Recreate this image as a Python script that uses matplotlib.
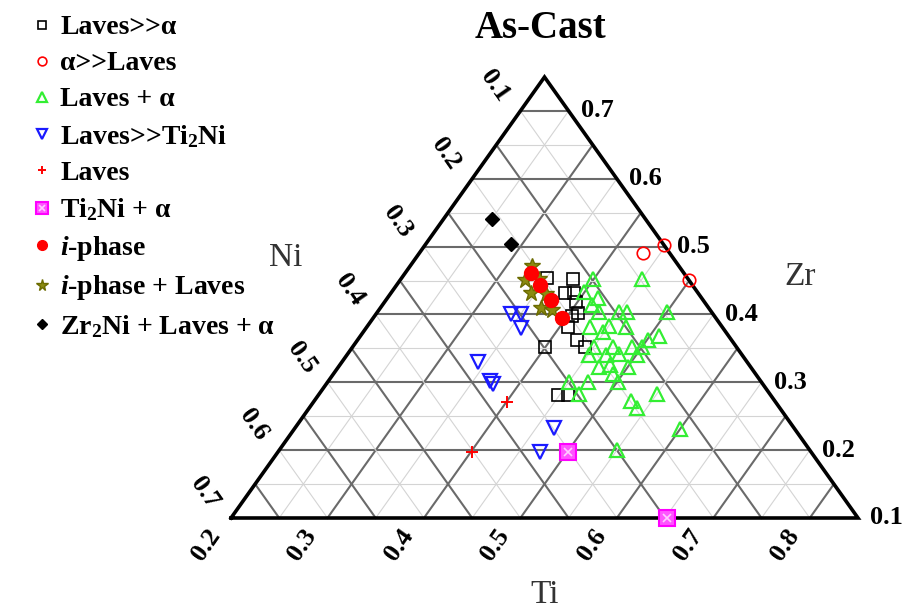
import numpy as np
import matplotlib
matplotlib.use('Agg')
import matplotlib.pyplot as plt

plt.rcParams['font.family'] = ['Liberation Serif', 'DejaVu Serif']
plt.rcParams['mathtext.fontset'] = 'custom'
plt.rcParams['mathtext.rm'] = 'Liberation Serif:bold'
plt.rcParams['mathtext.it'] = 'Liberation Serif:italic:bold'
plt.rcParams['mathtext.default'] = 'regular'

# compositions (fractions), Ni = 1 - Ti - Zr
laves_ti = [0.351, 0.379, 0.380, 0.390, 0.399, 0.409, 0.404, 0.408, 0.428, 0.441, 0.400, 0.448, 0.459]
laves_zr = [0.454, 0.452, 0.432, 0.432, 0.418, 0.402, 0.398, 0.382, 0.362, 0.352, 0.352, 0.281, 0.281]

alpha_ti = [0.432, 0.448, 0.499]
alpha_zr = [0.491, 0.502, 0.451]

mix_ti = [0.399, 0.450, 0.399, 0.418, 0.417, 0.429, 0.450, 0.459, 0.500, 0.431, 0.450, 0.449,
          0.469, 0.510, 0.501, 0.450, 0.470, 0.490, 0.500, 0.451, 0.469, 0.481, 0.501, 0.470,
          0.480, 0.500, 0.490, 0.450, 0.470, 0.501, 0.469, 0.550, 0.529, 0.540, 0.600, 0.550]
mix_zr = [0.452, 0.452, 0.433, 0.424, 0.414, 0.404, 0.404, 0.404, 0.404, 0.382, 0.383, 0.374,
          0.382, 0.368, 0.362, 0.352, 0.352, 0.352, 0.352, 0.340, 0.340, 0.342, 0.340, 0.323,
          0.325, 0.323, 0.312, 0.300, 0.300, 0.300, 0.283, 0.283, 0.272, 0.262, 0.231, 0.200]

ti2ni_ti = [0.340, 0.350, 0.361, 0.341, 0.368, 0.373, 0.468, 0.472]
ti2ni_zr = [0.401, 0.401, 0.380, 0.330, 0.302, 0.297, 0.233, 0.197]

lav_ti = [0.401, 0.401]
lav_zr = [0.271, 0.197]

ta_ti = [0.501, 0.652]
ta_zr = [0.197, 0.100]

iph_ti = [0.330, 0.349, 0.371, 0.396]
iph_zr = [0.461, 0.443, 0.421, 0.395]

ipl_ti = [0.327, 0.329, 0.343, 0.345, 0.362, 0.366, 0.379]
ipl_zr = [0.471, 0.451, 0.452, 0.432, 0.430, 0.410, 0.407]

zr2ni_ti = [0.250, 0.288]
zr2ni_zr = [0.541, 0.504]

tick_vals = [0.1, 0.2, 0.3, 0.4, 0.5, 0.6, 0.7, 0.8]

# zoomed triangle: Ti 0.2..0.85, Zr 0.1..0.75, Ni 0.05..0.7
TI0, ZR0, NI0, SPAN = 0.2, 0.1, 0.05, 0.65
H = 0.7033


def tern(ti, zr):
    a = (np.asarray(ti, dtype=float) - TI0) / SPAN
    c = (np.asarray(zr, dtype=float) - ZR0) / SPAN
    return a + 0.5 * c, H * c


fig = plt.figure(figsize=(9.06, 6.10), dpi=100)
ax = fig.add_axes([0, 0, 1, 1])
ax.set_xlim(-231 / 627, 675 / 627)
ax.set_ylim(-92 / 627, 518 / 627)
ax.axis('off')

# grid lines every 0.05, dark ones every 0.1
for k in range(1, 13):
    v = round(0.05 * k, 2)
    dark = (k % 2 == 0)
    col = '#6a6a6a' if dark else '#d4d4d4'
    lw = 1.5 if dark else 0.8
    # Zr constant
    z = ZR0 + v
    if z < ZR0 + SPAN:
        x, y = tern([TI0, 1 - NI0 - z], [z, z])
        ax.plot(x, y, color=col, lw=lw, zorder=1)
    # Ti constant
    t = TI0 + v
    if t < TI0 + SPAN:
        x, y = tern([t, t], [ZR0, 1 - NI0 - t])
        ax.plot(x, y, color=col, lw=lw, zorder=1)
    # Ni constant
    n = NI0 + v
    if n < NI0 + SPAN:
        x, y = tern([1 - ZR0 - n, TI0], [ZR0, 1 - TI0 - n])
        ax.plot(x, y, color=col, lw=lw, zorder=1)

# outline
x, y = tern([TI0, TI0 + SPAN, TI0, TI0], [ZR0, ZR0, ZR0 + SPAN, ZR0])
ax.plot(x, y, color='black', lw=2.6, zorder=2, solid_joinstyle='miter')

# tick labels
u = 1 / 627
for v in tick_vals:
    lab = '%.1f' % v
    if 0.2 <= v <= 0.8:   # Ti on bottom edge
        x, y = tern(v, ZR0)
        ax.text(x - 25 * u, y - 27 * u, lab, rotation=55, ha='center', va='center',
                fontsize=19, fontweight='bold')
    if 0.1 <= v <= 0.7:   # Ni on left edge
        x, y = tern(TI0, 1 - TI0 - v)
        ax.text(x - 26 * u, y + 25 * u, lab, rotation=-55, ha='center', va='center',
                fontsize=19, fontweight='bold')
        # Zr on right edge
        x, y = tern(1 - NI0 - v, v)
        ax.text(x + 12 * u, y, lab, ha='left', va='center', fontsize=19, fontweight='bold')

# axis names and title
ax.text(55 * u, 260 * u, 'Ni', fontsize=24, color='#333333', ha='center', va='center')
ax.text(569 * u, 241 * u, 'Zr', fontsize=24, color='#333333', ha='center', va='center')
ax.text(314 * u, -77 * u, 'Ti', fontsize=24, color='#333333', ha='center', va='center')
ax.text(309 * u, 490 * u, 'As-Cast', fontsize=28, fontweight='bold', ha='center', va='center')

# data
x, y = tern(laves_ti, laves_zr)
h1, = ax.plot(x, y, 's', ms=8, mfc='none', mec='black', mew=1.2, zorder=4)
x, y = tern(alpha_ti, alpha_zr)
h2, = ax.plot(x, y, 'o', ms=9, mfc='none', mec='red', mew=1.2, zorder=4)
x, y = tern(mix_ti, mix_zr)
h3, = ax.plot(x, y, '^', ms=10, mfc='none', mec='#33ee33', mew=1.6, zorder=4)
x, y = tern(ti2ni_ti, ti2ni_zr)
h4, = ax.plot(x, y, 'v', ms=10, mfc='none', mec='#1a1aff', mew=1.6, zorder=4)
x, y = tern(lav_ti, lav_zr)
h5, = ax.plot(x, y, '+', ms=8, mec='red', mew=1.4, zorder=4)
x, y = tern(ta_ti, ta_zr)
h6a, = ax.plot(x, y, 's', ms=12, mfc='#ff55ff', mec='#ff00ff', mew=1.5, zorder=4)
h6b, = ax.plot(x, y, 'x', ms=6, mec='#ffccff', mew=1.2, zorder=5)
x, y = tern(ipl_ti, ipl_zr)
h8, = ax.plot(x, y, '*', ms=12, color='#8a8a10', mec='#6b6b00', zorder=4)
x, y = tern(iph_ti, iph_zr)
h7, = ax.plot(x, y, 'o', ms=10, color='red', zorder=5)
x, y = tern(zr2ni_ti, zr2ni_zr)
h9, = ax.plot(x, y, 'D', ms=7, color='black', zorder=4)

handles = [h1, h2, h3, h4, h5, (h6a, h6b), h7, h8, h9]
labels = ['Laves>>\u03b1', '\u03b1>>Laves', 'Laves + \u03b1', 'Laves>>Ti$_2$Ni', 'Laves',
          'Ti$_2$Ni + \u03b1', r'$\mathit{i}$-phase', r'$\mathit{i}$-phase + Laves',
          'Zr$_2$Ni + Laves + \u03b1']
fig.legend(handles, labels, loc='upper left', bbox_to_anchor=(31 / 906, 1 - 15 / 610),
           frameon=False, prop={'family': 'Liberation Serif', 'weight': 'bold', 'size': 20},
           handlelength=0.8, handletextpad=0.25, labelspacing=0.38, borderpad=0,
           borderaxespad=0, markerscale=0.7)

fig.savefig('out.png', dpi=100)
